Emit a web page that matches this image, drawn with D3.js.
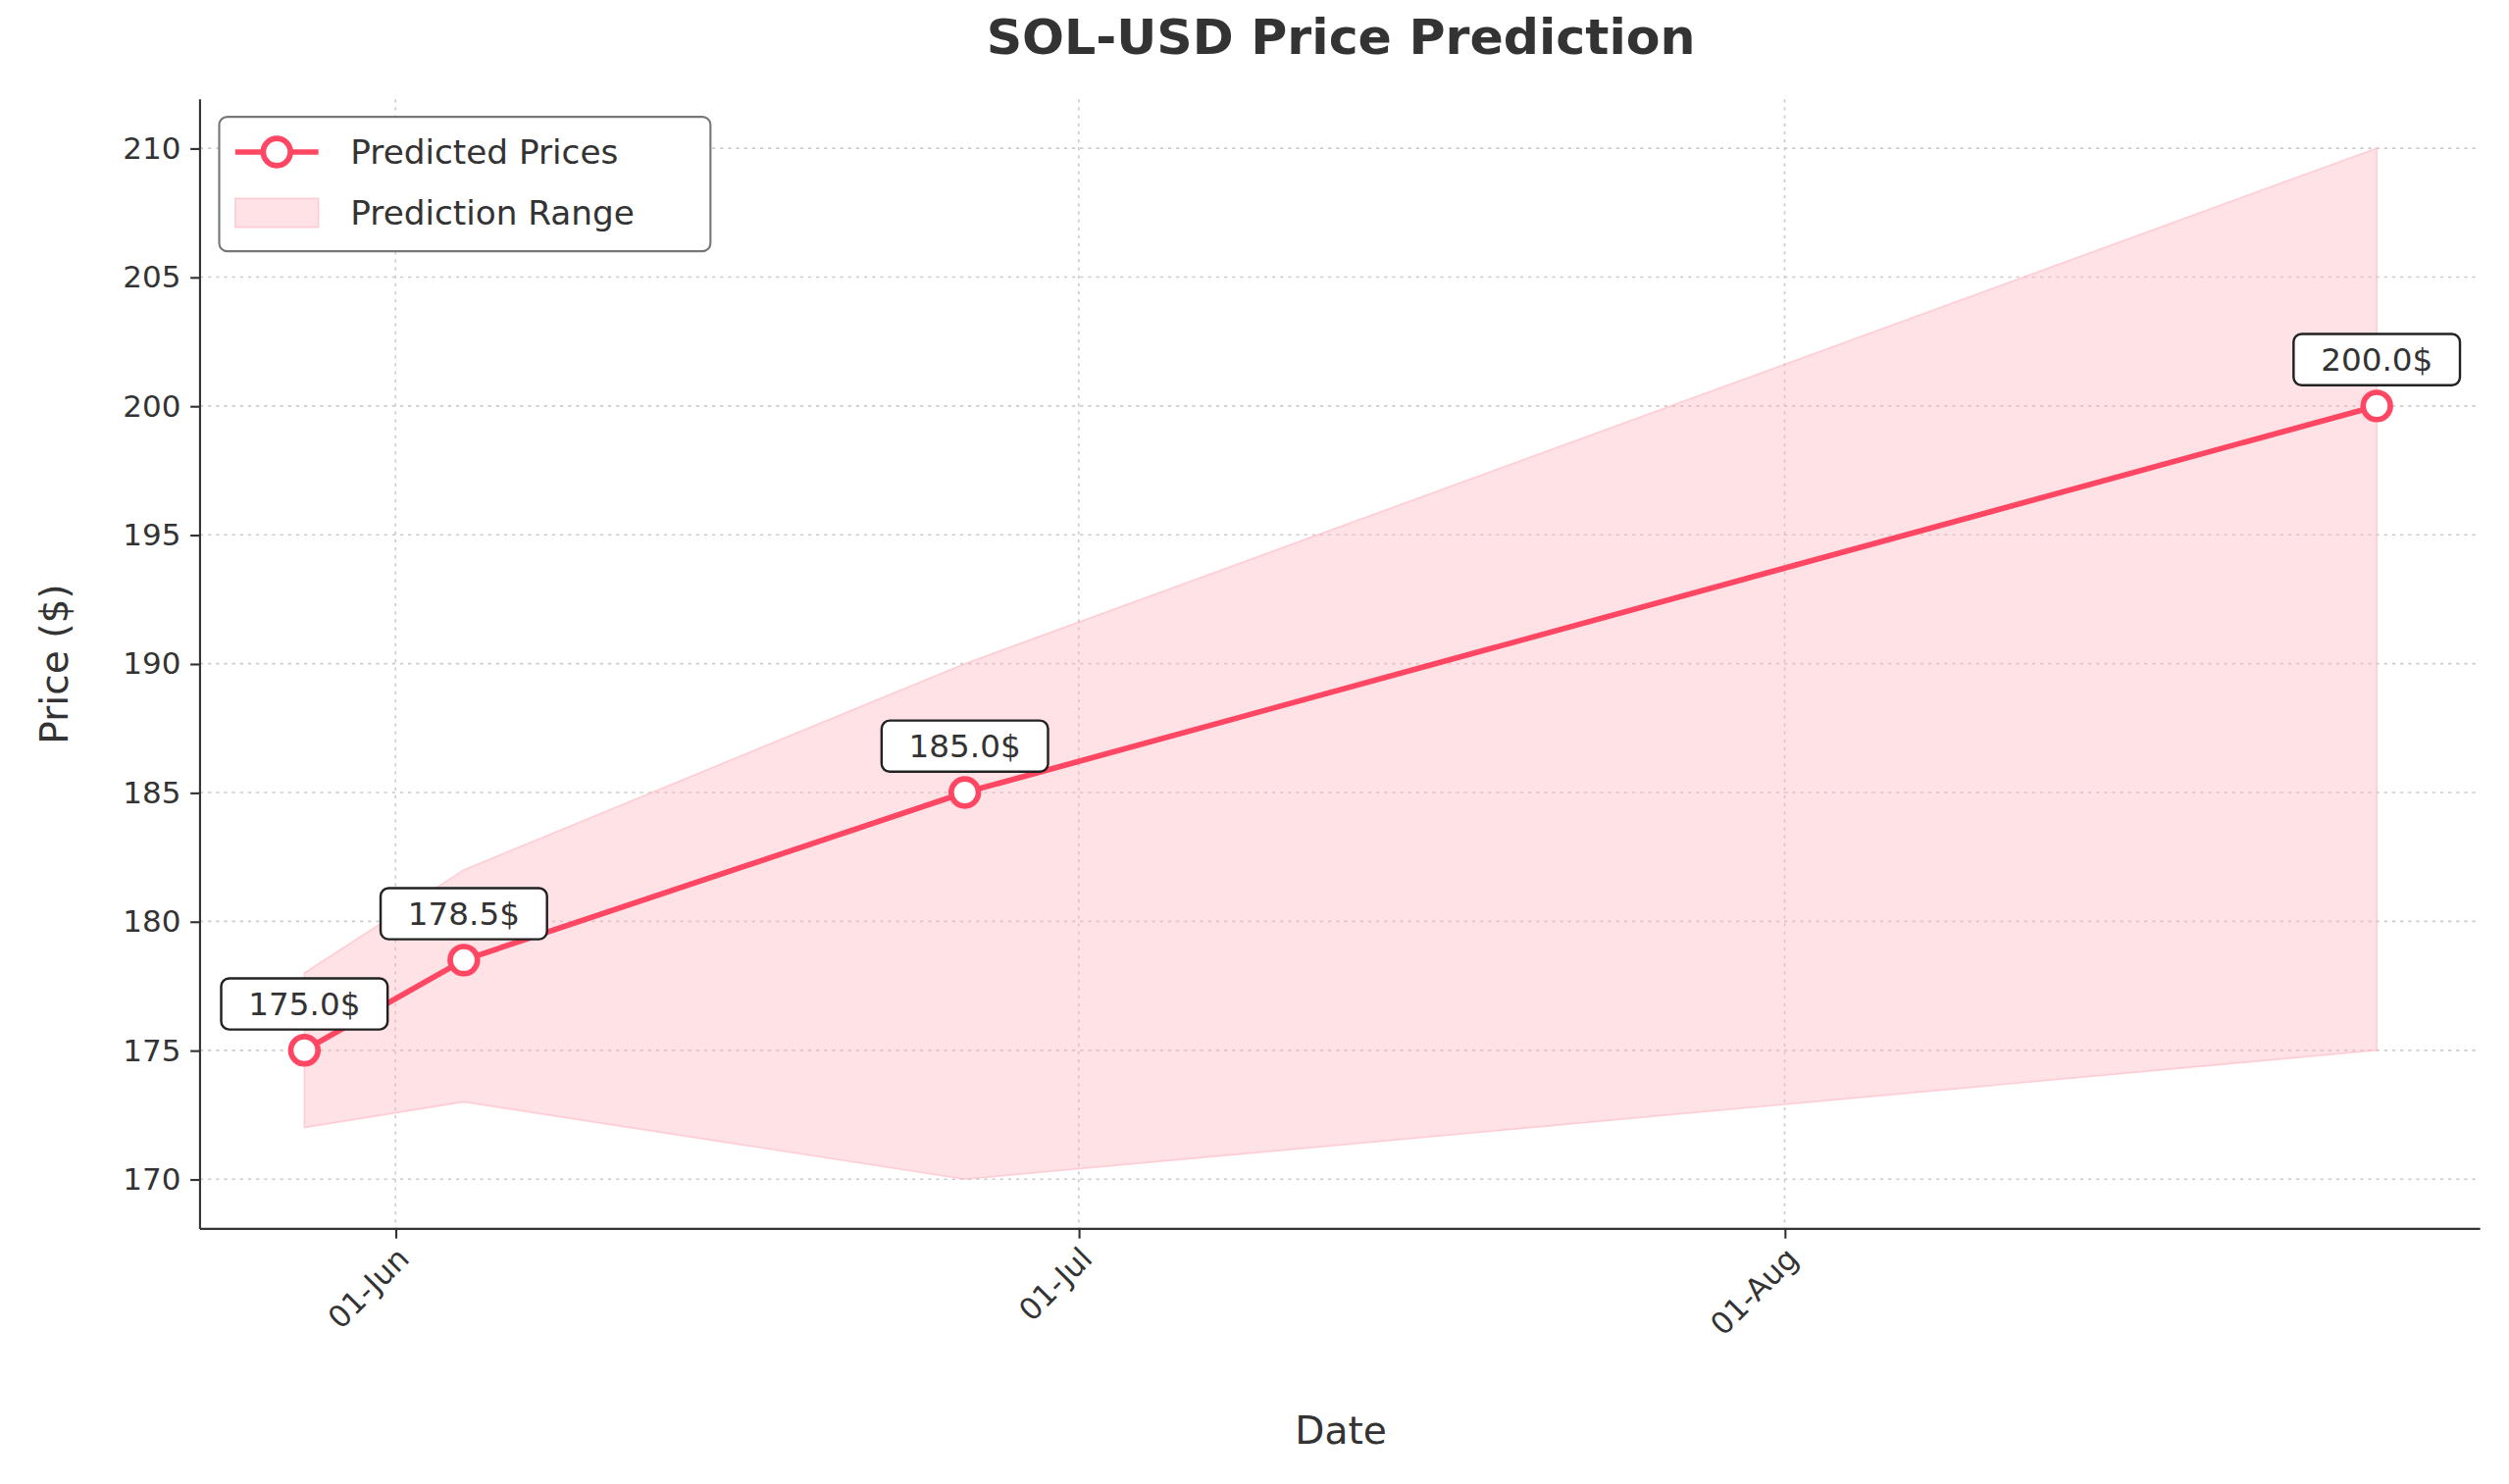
<!DOCTYPE html>
<html><head><meta charset="utf-8">
<script src="https://cdn.jsdelivr.net/npm/d3@7"></script>
<style>body{margin:0;background:#fff}text{font-family:"DejaVu Sans",sans-serif;fill:#333}</style>
</head><body><svg id="c" width="2558" height="1513" viewBox="0 0 1568 927.4"></svg>
<script>
const dates = ["2024-05-28","2024-06-04","2024-06-26","2024-08-27"];
const predicted = [175.0, 178.5, 185.0, 200.0];
const lower = [172, 173, 170, 175];
const upper = [178, 182, 190, 210];
const yTicks = [170,175,180,185,190,195,200,205,210];
const xTickDates = ["2024-06-01","2024-07-01","2024-08-01"];
const xTickLabels = ["01-Jun","01-Jul","01-Aug"];

const p = d3.timeParse("%Y-%m-%d");
const svg = d3.select("#c");
const L=125,R=1550,T=62,B=768;
const x = d3.scaleTime().domain([d3.timeHour.offset(p("2024-06-01"),-8.57*24), d3.timeHour.offset(p("2024-08-01"),30.57*24)]).range([L,R]);
const y = d3.scaleLinear().domain([168.07,211.9]).range([B,T]);
const col="#ff4763";
// grid
svg.append("g").selectAll("line").data(yTicks).join("line").attr("x1",L).attr("x2",R).attr("y1",d=>y(d)).attr("y2",d=>y(d)).attr("stroke","#ccc").attr("stroke-dasharray","2,3");
svg.append("g").selectAll("line").data(xTickDates).join("line").attr("y1",T).attr("y2",B).attr("x1",d=>x(p(d))).attr("x2",d=>x(p(d))).attr("stroke","#ccc").attr("stroke-dasharray","2,3");
const data = dates.map((d,i)=>({d:p(d),v:predicted[i],lo:lower[i],hi:upper[i]}));
svg.append("path").datum(data).attr("d",d3.area().x(d=>x(d.d)).y0(d=>y(d.lo)).y1(d=>y(d.hi))).attr("fill","#ffb6c1").attr("fill-opacity",0.4).attr("stroke","#ffb6c1").attr("stroke-opacity",0.6);
svg.append("path").datum(data).attr("d",d3.line().x(d=>x(d.d)).y(d=>y(d.v))).attr("fill","none").attr("stroke",col).attr("stroke-width",3.5);
svg.append("g").selectAll("circle").data(data).join("circle").attr("cx",d=>x(d.d)).attr("cy",d=>y(d.v)).attr("r",8.5).attr("fill","#fff").attr("stroke",col).attr("stroke-width",3.5);
// labels
const lab = svg.append("g").selectAll("g").data(data).join("g").attr("transform",d=>`translate(${x(d.d)},${y(d.v)-29})`);
lab.append("rect").attr("x",-52).attr("y",-16).attr("width",104).attr("height",32).attr("rx",5).attr("fill","#fff").attr("stroke","#222").attr("stroke-width",1.5);
lab.append("text").attr("text-anchor","middle").attr("dy","0.36em").attr("font-size",20).text(d=>d.v.toFixed(1)+"$");
// axes
const ya = svg.append("g").attr("transform",`translate(${L},0)`).call(d3.axisLeft(y).tickValues(yTicks).tickSize(6).tickPadding(6));
ya.selectAll("text").attr("font-size",19);
ya.select(".domain").attr("d",`M0,${B}V${T}`);
const xa = svg.append("g").attr("transform",`translate(0,${B})`).call(d3.axisBottom(x).tickValues(xTickDates.map(p)).tickFormat((d,i)=>xTickLabels[i]).tickSize(6));
xa.selectAll("text").attr("font-size",19).attr("text-anchor","end").attr("transform","rotate(-45)").attr("dx","-0.4em").attr("dy","0.6em");
xa.select(".domain").attr("d",`M${L},0H${R}`);
svg.selectAll(".domain,.tick line").attr("stroke","#333").attr("stroke-width",1.3);
svg.append("text").attr("x",838).attr("y",34).attr("text-anchor","middle").attr("font-size",31).attr("font-weight","bold").text("SOL-USD Price Prediction");
svg.append("text").attr("x",838).attr("y",902).attr("text-anchor","middle").attr("font-size",24).text("Date");
svg.append("text").attr("transform","translate(42,415) rotate(-90)").attr("text-anchor","middle").attr("font-size",24).text("Price ($)");
// legend
const lg = svg.append("g");
lg.append("rect").attr("x",137).attr("y",73).attr("width",307).attr("height",84).attr("rx",5).attr("fill","#fff").attr("stroke","#777").attr("stroke-width",1.3);
lg.append("line").attr("x1",147).attr("x2",199).attr("y1",95).attr("y2",95).attr("stroke",col).attr("stroke-width",3.5);
lg.append("circle").attr("cx",173).attr("cy",95).attr("r",8.5).attr("fill","#fff").attr("stroke",col).attr("stroke-width",3.5);
lg.append("rect").attr("x",147).attr("y",124).attr("width",52).attr("height",18).attr("fill","#ffb6c1").attr("fill-opacity",0.4).attr("stroke","#ffb6c1").attr("stroke-opacity",0.6);
lg.append("text").attr("x",219).attr("y",95).attr("dy","0.36em").attr("font-size",21).text("Predicted Prices");
lg.append("text").attr("x",219).attr("y",133).attr("dy","0.36em").attr("font-size",21).text("Prediction Range");
</script></body></html>
